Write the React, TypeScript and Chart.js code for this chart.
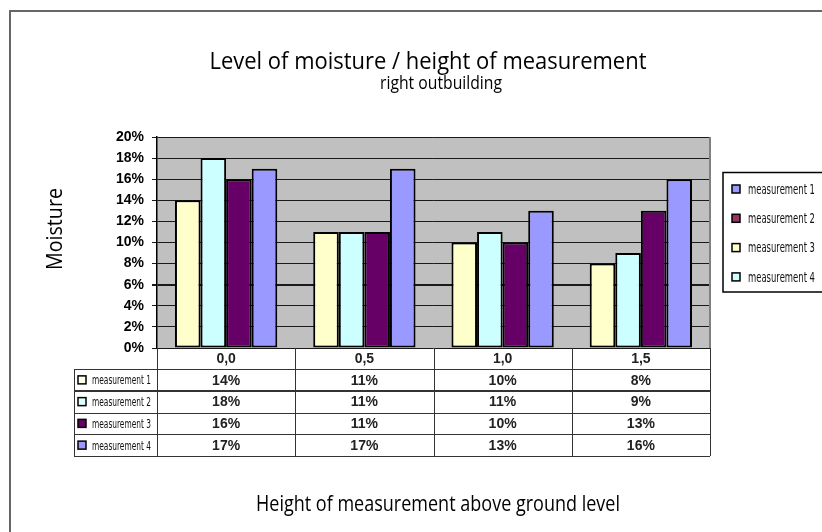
import React, { useEffect, useRef } from "react";
import { Chart, registerables } from "chart.js";

Chart.register(...registerables);

// ---- data ----
const categories = ["0,0", "0,5", "1,0", "1,5"];
const seriesNames = ["measurement 1", "measurement 2", "measurement 3", "measurement 4"];
const measurement1 = [14, 11, 10, 8];
const measurement2 = [18, 11, 11, 9];
const measurement3 = [16, 11, 10, 13];
const measurement4 = [17, 17, 13, 16];
const barColors = ["#FFFFCC", "#CCFFFF", "#660066", "#9999FF"];
// colours of the keys as they appear in the original side legend and table
const sideLegendColors = ["#9999FF", "#993366", "#FFFFCC", "#CCFFFF"];
const tableKeyColors = ["#FFFFEE", "#DDFFFF", "#660066", "#9999FF"];
const yMax = 20;
const yStep = 2;
const titleText = "Level of moisture / height of measurement";
const subtitleText = "right outbuilding";
const yAxisTitle = "Moisture";
const xAxisTitle = "Height of measurement above ground level";

const SANS = "'Open Sans', 'Noto Sans', sans-serif";
const NARROW = "'Liberation Sans Narrow', 'DejaVu Sans Condensed', 'Liberation Sans', sans-serif";
const ARIAL = "'Liberation Sans', Arial, sans-serif";

function fitText(
  ctx: CanvasRenderingContext2D,
  text: string,
  x: number,
  y: number,
  font: string,
  width: number,
  align: "left" | "center" = "center",
  baseline: CanvasTextBaseline = "alphabetic"
) {
  ctx.save();
  ctx.font = font;
  const w = ctx.measureText(text).width;
  const s = width / w;
  ctx.translate(x, y);
  ctx.scale(s, 1);
  ctx.textAlign = align;
  ctx.textBaseline = baseline;
  ctx.fillText(text, 0, 0);
  ctx.restore();
}

const decorPlugin = {
  id: "decor",
  beforeDraw(chart: any) {
    const ctx = chart.ctx as CanvasRenderingContext2D;
    const { left, right, top, bottom } = chart.chartArea;
    ctx.save();
    ctx.fillStyle = "#ffffff";
    ctx.fillRect(0, 0, chart.width, chart.height);
    // outer frame
    ctx.strokeStyle = "#666666";
    ctx.lineWidth = 2;
    ctx.strokeRect(10, 11, chart.width + 20, chart.height + 20);
    // plot background
    ctx.fillStyle = "#C0C0C0";
    ctx.fillRect(left, top, right - left, bottom - top);
    ctx.restore();
  },
  afterDraw(chart: any) {
    const ctx = chart.ctx as CanvasRenderingContext2D;
    const { left, right, top, bottom } = chart.chartArea;
    const xs = chart.scales.x;
    ctx.save();
    ctx.fillStyle = "#000000";

    // titles
    fitText(ctx, titleText, 428, 69, `500 23px ${SANS}`, 437);
    fitText(ctx, subtitleText, 441, 89, `500 18px ${SANS}`, 122);
    fitText(ctx, xAxisTitle, 438, 511, `500 22px ${SANS}`, 364);
    ctx.save();
    ctx.translate(62, 229);
    ctx.rotate(-Math.PI / 2);
    fitText(ctx, yAxisTitle, 0, 0, `500 22px ${SANS}`, 82);
    ctx.restore();

    // plot right edge
    ctx.strokeStyle = "#808080";
    ctx.lineWidth = 2;
    ctx.beginPath();
    ctx.moveTo(right, top);
    ctx.lineTo(right, bottom);
    ctx.stroke();

    // data table
    const n = categories.length;
    const catW = (right - left) / n;
    const tableLeft = 74;
    const rowTop = 369;
    const rowH = 21.75;
    const tableBottom = rowTop + rowH * seriesNames.length;
    ctx.strokeStyle = "#333333";
    ctx.lineWidth = 1;
    ctx.beginPath();
    for (let j = 0; j <= n; j++) {
      const x = Math.round(xs.getPixelForValue(0) - catW / 2 + j * catW) + 0.5;
      ctx.moveTo(x, bottom);
      ctx.lineTo(x, tableBottom);
    }
    ctx.moveTo(tableLeft + 0.5, rowTop);
    ctx.lineTo(tableLeft + 0.5, tableBottom);
    for (let i = 0; i <= seriesNames.length; i++) {
      if (i === 1) continue;
      const y = Math.round(rowTop + i * rowH) + 0.5;
      ctx.moveTo(tableLeft, y);
      ctx.lineTo(right, y);
    }
    ctx.stroke();
    ctx.lineWidth = 2;
    ctx.beginPath();
    const yThick = Math.round(rowTop + rowH);
    ctx.moveTo(tableLeft, yThick);
    ctx.lineTo(right, yThick);
    ctx.stroke();

    chart.data.datasets.forEach((ds: any, i: number) => {
      const cy = rowTop + i * rowH + rowH / 2;
      // key
      ctx.fillStyle = tableKeyColors[i];
      ctx.fillRect(78, cy - 4, 8, 8);
      ctx.strokeStyle = "#000";
      ctx.lineWidth = 1.5;
      ctx.strokeRect(78, cy - 4, 8, 8);
      ctx.fillStyle = "#111";
      fitText(ctx, ds.label, 92, cy + 1, `13px ${NARROW}`, 59, "left", "middle");
      ds.data.forEach((v: number, j: number) => {
        ctx.font = `bold 14px ${ARIAL}`;
        ctx.fillStyle = "#222";
        ctx.textAlign = "center";
        ctx.textBaseline = "middle";
        ctx.fillText(`${v}%`, xs.getPixelForValue(j), cy + 1);
      });
    });

    // side legend
    ctx.strokeStyle = "#000";
    ctx.lineWidth = 1.5;
    ctx.strokeRect(723, 172.5, 120, 119.5);
    seriesNames.forEach((name, i) => {
      const cy = 189 + i * 29.3;
      ctx.fillStyle = sideLegendColors[i];
      ctx.fillRect(732, cy - 4, 8, 8);
      ctx.strokeStyle = "#000";
      ctx.lineWidth = 1.5;
      ctx.strokeRect(732, cy - 4, 8, 8);
      ctx.fillStyle = "#111";
      fitText(ctx, name, 748, cy + 1, `14px ${NARROW}`, 67, "left", "middle");
    });
    ctx.restore();
  },
};

export default function App() {
  const canvasRef = useRef<HTMLCanvasElement | null>(null);

  useEffect(() => {
    if (!canvasRef.current) return;
    const series = [measurement1, measurement2, measurement3, measurement4];
    const chart = new Chart(canvasRef.current, {
      type: "bar",
      data: {
        labels: categories,
        datasets: series.map((d, i) => ({
          label: seriesNames[i],
          data: d,
          backgroundColor: barColors[i],
          borderColor: "#000000",
          borderWidth: 2,
          borderSkipped: false,
          categoryPercentage: 0.74,
          barPercentage: 1,
        })),
      },
      options: {
        responsive: false,
        animation: false,
        devicePixelRatio: 1,
        layout: { padding: { left: 0, top: 137, right: 112, bottom: 0 } },
        plugins: {
          legend: { display: false },
          title: { display: false },
          tooltip: { enabled: false },
        },
        scales: {
          x: {
            grid: { display: false, drawTicks: false },
            border: { display: false },
            ticks: {
              color: "#222",
              font: { family: ARIAL, size: 14, weight: "bold" },
              padding: 3,
              maxRotation: 0,
            },
            afterFit: (s: any) => {
              s.height = 184;
              s.paddingLeft = 0;
              s.paddingRight = 0;
            },
          },
          y: {
            min: 0,
            max: yMax,
            ticks: {
              stepSize: yStep,
              color: "#000",
              font: { family: ARIAL, size: 14, weight: "bold" },
              padding: 8,
              callback: (v: any) => `${v}%`,
            },
            grid: {
              color: "#1a1a1a",
              lineWidth: (c: any) => (c.tick && c.tick.value === 6 ? 2 : 1),
              tickLength: 5,
              drawTicks: true,
            },
            border: { display: true, color: "#000", width: 1.5 },
            afterFit: (s: any) => {
              s.width = 157;
              s.paddingTop = 0;
              s.paddingBottom = 0;
            },
          },
        },
      },
      plugins: [decorPlugin],
    });
    return () => chart.destroy();
  }, []);

  return (
    <div style={{ position: "absolute", left: 0, top: 0, width: 822, height: 532 }}>
      <canvas ref={canvasRef} width={822} height={532} style={{ display: "block" }} />
    </div>
  );
}
